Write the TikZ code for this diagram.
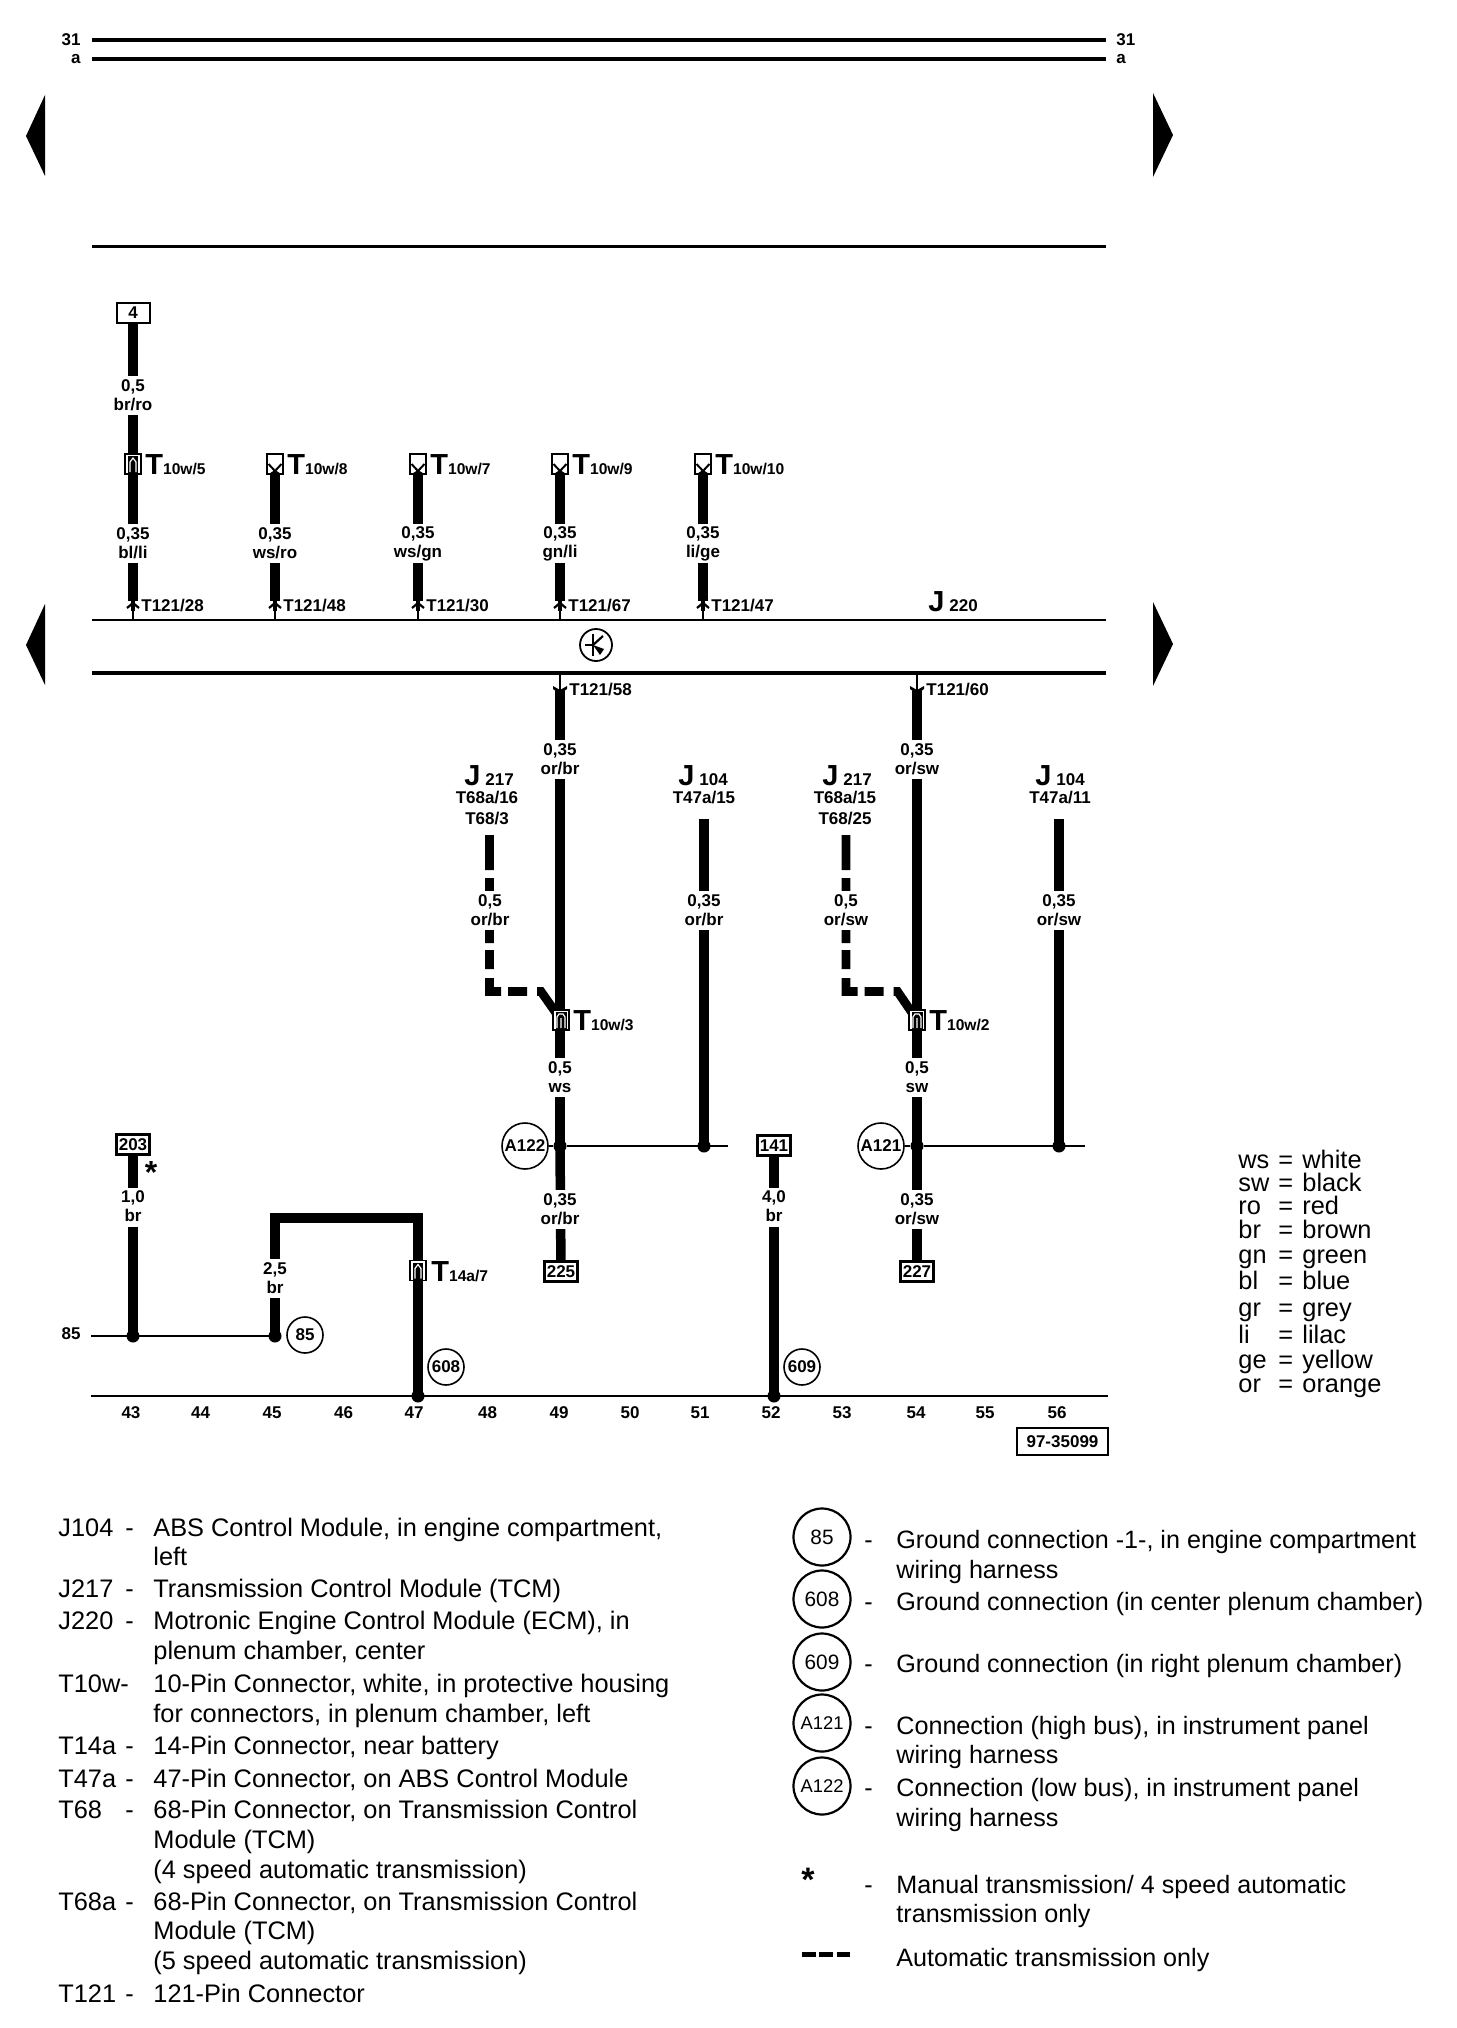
\documentclass[tikz,border=0pt]{standalone}
\usepackage{fontspec}
\setmainfont{Liberation Sans}
\usetikzlibrary{calc}
\pgfdeclarelayer{wires}
\pgfsetlayers{wires,main}
\newcommand\bsm{\fontsize{8.5}{9.5}\selectfont\bfseries}
\newcommand\bsn{\fontsize{7.8}{9.5}\selectfont\bfseries}
\newcommand\bbig{\fontsize{14.5}{14.5}\selectfont\bfseries}
\newcommand\txtf{\fontsize{12.68}{14}\selectfont}
\newcommand\txtr{\fontsize{12.57}{14}\selectfont}
\newcommand\LL[2]{\rule[-1.5pt]{0pt}{8pt}#1\\\rule[-1.5pt]{0pt}{8pt}#2}
\tikzset{
  wire/.style={line width=4.75pt,line cap=butt},
  thin wire/.style={line width=1pt},
  flatbar/.style={line cap=butt},
  wl/.style={fill=white,inner sep=0pt,minimum height=19.5pt,minimum width=6pt,align=center,font=\bsm},
  bt/.style={inner sep=0pt,font=\bsm},
  bigtx/.style={inner sep=0pt,anchor=base west},
  tx/.style={inner sep=0pt,anchor=base west,font=\txtf},
  txr/.style={inner sep=0pt,anchor=base west,font=\txtr},
  term/.style={draw,fill=white,inner sep=0pt,minimum width=16.5pt,minimum height=10pt,line width=1.2pt,font=\bsm},
  conn/.style={draw,fill=white,inner sep=0pt,minimum width=8pt,minimum height=10pt,line width=.9pt},
  ring/.style={draw,fill=white,circle,inner sep=0pt,minimum size=18pt,line width=.8pt,font=\bsm},
  bigring/.style={draw,fill=white,circle,inner sep=0pt,minimum size=28.5pt,line width=1.1pt,font=\fontsize{10.4}{11}\selectfont},
  blob/.style={fill=black,circle,inner sep=0pt,minimum size=6.5pt},
  dashwire/.style={line width=4.4pt,line cap=butt,line join=miter,
    dash pattern=on 17.5pt off 4pt on 6.5pt off 19.5pt on 6.5pt off 3.5pt on 9.5pt off 4.5pt on 12.5pt off 3.5pt on 9.5pt off 5pt on 100pt},
}
% connector glyphs
\newcommand\ConnUp[3]{%
  \node[conn] (#1) at (#2,#3) {};
  \begin{scope}[shift={(#1.center)}]
    \fill (-4.75,-8) rectangle (4.75,9);
    \draw[white,line width=.6pt] (-3,8)--(-3,-2)--(0,-6)--(3,-2)--(3,8);
  \end{scope}}
\newcommand\ConnDouble[3]{%
  \node[conn] (#1) at (#2,#3) {};
  \begin{scope}[shift={(#1.center)}]
    \fill (-5.5,-8) rectangle (5.5,9);
    \draw[white,line width=.6pt] (-4,8)--(-4,-3)--(-2,-6)--(2,-6)--(4,-3)--(4,8) (0,8)--(0,-2);
  \end{scope}}
\newcommand\ConnDown[3]{%
  \node[conn] (#1) at (#2,#3) {};
  \begin{scope}[shift={(#1.center)}]
    \draw[line width=1pt] (-6.5,0)--(0,7)--(6.5,0);
    \fill (-4.75,9) -- (0,6) -- (4.75,9) -- cycle;
  \end{scope}}
% connector name, wire label etc. for the top row
\newcommand\TopCol[6]{%
  \coordinate (ar#1) at (#2,601);
  \coordinate (st#1) at (#2,620);
  \node[wl] (lb#1) at (#2,543.5) {\LL{0,35}{#4}};
  \node[bt,anchor=base west] (pn#1) at ({#2+8},611) {#5};
  \node[bigtx] (tn#1) at ({#2+12},474) {\bbig T\bsn #3};
  \begin{pgfonlayer}{wires}
    \draw[wire] (c#1.center) -- (ar#1);
    \draw[line width=1pt] (ar#1) -- (st#1);
    \draw[line width=1.6pt] (ar#1) -- ($(ar#1)+(0,10)$);
  \end{pgfonlayer}
  \draw[line width=1.1pt] ($(ar#1)+(-6,7)$) -- ($(ar#1)+(0,2)$) -- ($(ar#1)+(6,7)$);
}
\newcommand\Hl[5]{%
  \coordinate (#1w) at (#2,#4); \coordinate (#1e) at (#3,#4);
  \draw[flatbar,line width=#5] (#1w) -- (#1e);}
\newcommand\Tx[4]{\node[tx] (#1) at (#2,#3) {#4};}
\newcommand\Tr[4]{\node[txr] (#1) at (#2,#3) {#4};}
\newcommand\Bn[4]{\node[bt] (#1) at (#2,#3) {#4};}
\newcommand\JLab[5]{\node[bigtx] (#1) at (#2,#3) {\bbig #4\,\bsm #5};}
\begin{document}
\begin{tikzpicture}[x=.5pt,y=-.5pt]
\useasboundingbox (0,0) rectangle (1456,2028);
\begin{pgfonlayer}{wires}
\fill[white] (0,0) rectangle (1456,2028);
\end{pgfonlayer}
% header lines
\Hl{ha}{92}{1106}{40}{1.6pt}
\Hl{hb}{92}{1106}{59}{1.8pt}
\Hl{hc}{92}{1106}{247}{1.5pt}
\Hl{bus1}{92}{1106}{620}{1pt}
\Hl{bus2}{92}{1106}{673}{1.8pt}
\Hl{gnd}{91}{1108}{1396}{1pt}
\Hl{rail}{91}{275}{1336}{1pt}
\node[bt,anchor=east] (n31a) at (81,40) {31};
\node[bt,anchor=east] (na) at (81,59) {a};
\node[bt,anchor=west] (n31b) at (1116,40) {31};
\node[bt,anchor=west] (nb) at (1116,59) {a};
% page arrows
\fill (45,95)--(26,136)--(45,176)--cycle;
\fill (1153,93)--(1173,135)--(1153,177)--cycle;
\fill (45,604)--(26,645)--(45,685)--cycle;
\fill (1153,602)--(1173,644)--(1153,686)--cycle;
% top row
\node[term,line width=1pt] (b4) at (133,313) {4};
\node[wl] (l4) at (133,395.5) {\LL{0,5}{br/ro}};
\ConnUp{ca}{133}{464}
\ConnDown{cb}{275}{464}
\ConnDown{cc}{418}{464}
\ConnDown{cd}{560}{464}
\ConnDown{ce}{703}{464}
\begin{pgfonlayer}{wires}
\draw[wire] (b4.center) -- (ca.center);
\end{pgfonlayer}
\TopCol{a}{133}{10w/5}{bl/li}{T121/28}{}
\TopCol{b}{275}{10w/8}{ws/ro}{T121/48}{}
\TopCol{c}{418}{10w/7}{ws/gn}{T121/30}{}
\TopCol{d}{560}{10w/9}{gn/li}{T121/67}{}
\TopCol{e}{703}{10w/10}{li/ge}{T121/47}{}
\JLab{j220}{928}{611}{J}{220}
% control unit symbol
\node[draw,circle,inner sep=0pt,minimum size=16pt,line width=.9pt] (ku) at (596,645) {};
\draw[line width=.9pt] ($(ku.center)+(-11,0)$) -- ($(ku.center)+(-3,0)$);
\draw[line width=1.1pt] ($(ku.center)+(-3,-11)$) -- ($(ku.center)+(-3,11)$);
\draw[line width=1.1pt] ($(ku.center)+(-3,0)$) -- ($(ku.center)+(7,-9)$);
\fill ($(ku.center)+(-3,0)$) -- ($(ku.center)+(8,4)$) -- ($(ku.center)+(4,10)$) -- cycle;
% lower bus tips
\coordinate (p58) at (560,673);
\coordinate (p60) at (917,673);
\coordinate (h58) at (560,691);
\coordinate (h60) at (917,691);
\node[bt,anchor=base west] (t58) at (569,695) {T121/58};
\node[bt,anchor=base west] (t60) at (926,695) {T121/60};
% column 49
\node[wl] (l49a) at (560,759.5) {\LL{0,35}{or/br}};
\ConnDouble{c103}{561}{1020}
\node[bigtx] (tc103) at (573,1030) {\bbig T\bsn 10w/3};
\node[wl] (l49b) at (560,1077.5) {\LL{0,5}{ws}};
\node[blob] (d49) at (560,1146) {};
\node[ring,minimum size=23pt] (a122) at (525,1146) {A122};
\node[wl] (l49c) at (560,1209.5) {\LL{0,35}{or/br}};
\node[term] (b225) at (561,1271.5) {225};
% column 54
\node[wl] (l54a) at (917,759.5) {\LL{0,35}{or/sw}};
\ConnDouble{c102}{917}{1020}
\node[bigtx] (tc102) at (929,1030) {\bbig T\bsn 10w/2};
\node[wl] (l54b) at (917,1077.5) {\LL{0,5}{sw}};
\node[blob] (d54) at (917,1146) {};
\node[ring,minimum size=23pt] (a121) at (881,1146) {A121};
\node[wl] (l54c) at (917,1209.5) {\LL{0,35}{or/sw}};
\node[term] (b227) at (917,1271.5) {227};
% column 51, 56
\JLab{j104a}{678}{785}{J}{104}
\Bn{p104a}{704}{798}{T47a/15}
\coordinate (t51) at (704,819);
\node[wl] (l51) at (704,910.5) {\LL{0,35}{or/br}};
\node[blob] (d51) at (704,1146) {};
\JLab{j104b}{1035}{785}{J}{104}
\Bn{p104b}{1060}{798}{T47a/11}
\coordinate (t56) at (1059,819);
\node[wl] (l56) at (1059,910.5) {\LL{0,35}{or/sw}};
\node[blob] (d56) at (1059,1146) {};
% J217 dashed
\JLab{j217a}{464}{785}{J}{217}
\Bn{p217a}{487}{798}{T68a/16}
\Bn{q217a}{487}{819}{T68/3}
\coordinate (t48) at (489.5,835);
\coordinate (k48) at (489.5,991.5);
\coordinate (m48) at (541,991.5);
\node[wl] (l48) at (490,910.5) {\LL{0,5}{or/br}};
\JLab{j217b}{822}{785}{J}{217}
\Bn{p217b}{845}{798}{T68a/15}
\Bn{q217b}{845}{819}{T68/25}
\coordinate (t53) at (846,835);
\coordinate (k53) at (846,991.5);
\coordinate (m53) at (897.5,991.5);
\node[wl] (l53) at (846,910.5) {\LL{0,5}{or/sw}};
\coordinate (e51) at (728,1146);
\coordinate (e56) at (1085,1146);
% column 43, 45, 47, 52
\node[term] (b203) at (133,1144.5) {203};
\node[inner sep=0pt,font=\fontsize{16}{16}\selectfont\bfseries] (star) at (151,1172) {*};
\node[wl] (l43) at (133,1207) {\LL{1,0}{br}};
\node[blob] (d43) at (133,1336) {};
\node[blob] (d45) at (275,1336) {};
\node[wl] (l45) at (275,1278.5) {\LL{2,5}{br}};
\node[ring] (g85) at (305,1335) {85};
\coordinate (q45) at (275,1218);
\coordinate (q47) at (418,1218);
\ConnUp{c14}{418}{1270.5}
\node[bigtx] (tc14) at (431,1281) {\bbig T\bsn 14a/7};
\node[blob] (d47) at (418,1396) {};
\node[ring] (g608) at (446,1367) {608};
\node[term] (b141) at (774,1145.5) {141};
\node[wl] (l52) at (774,1207) {\LL{4,0}{br}};
\node[blob] (d52) at (774,1396) {};
\node[ring] (g609) at (802,1367) {609};
\begin{pgfonlayer}{wires}
\draw[wire] (h58) -- (d49.center);
\draw[wire] (d49.center) -- (b225.center);
\draw[wire] (h60) -- (d54.center);
\draw[wire] (d54.center) -- (b227.center);
\draw[line width=1.2pt] (p58) -- (h58);
\draw[line width=1.2pt] (p60) -- (h60);
\draw[thin wire] (a122) -- (d49) -- (e51);
\draw[thin wire] (a121) -- (d54) -- (e56);
\draw[wire] (t51) -- (d51.center);
\draw[wire] (t56) -- (d56.center);
\draw[dashwire] (t48) -- (k48) -- (m48) -- (c103.center);
\draw[dashwire] (t53) -- (k53) -- (m53) -- (c102.center);
\draw[wire] (b203.center) -- (d43.center);
\draw[wire,line join=miter] (d45.center) -- (q45) -- (q47) -- (d47.center);
\draw[wire] (b141.center) -- (d52.center);
\end{pgfonlayer}
\fill ($(h58)+(-7,-5)$) -- ($(h58)+(0,-1)$) -- ($(h58)+(7,-5)$) -- ($(h58)+(7,-2)$) -- ($(h58)+(0,3)$) -- ($(h58)+(-7,-2)$) -- cycle;
\fill ($(h60)+(-7,-5)$) -- ($(h60)+(0,-1)$) -- ($(h60)+(7,-5)$) -- ($(h60)+(7,-2)$) -- ($(h60)+(0,3)$) -- ($(h60)+(-7,-2)$) -- cycle;
\node[bt,anchor=east] (n85) at (81,1334) {85};
% column numbers
\Bn{s43}{131}{1413}{43}\Bn{s44}{200.5}{1413}{44}\Bn{s45}{272}{1413}{45}\Bn{s46}{343.5}{1413}{46}
\Bn{s47}{414}{1413}{47}\Bn{s48}{487.5}{1413}{48}\Bn{s49}{559}{1413}{49}\Bn{s50}{630}{1413}{50}
\Bn{s51}{700}{1413}{51}\Bn{s52}{771}{1413}{52}\Bn{s53}{842}{1413}{53}\Bn{s54}{916}{1413}{54}
\Bn{s55}{985}{1413}{55}\Bn{s56}{1057}{1413}{56}
\node[draw,line width=1pt,inner sep=0pt,minimum width=45.5pt,minimum height=13.5pt,font=\bsm] (code) at (1062.5,1441.5) {97-35099};
% colour legend
\Tx{k1}{1238}{1168}{ws}\Tx{e1}{1278}{1168}{=}\Tx{v1}{1302}{1168}{white}
\Tx{k2}{1238}{1191}{sw}\Tx{e2}{1278}{1191}{=}\Tx{v2}{1302}{1191}{black}
\Tx{k3}{1238}{1214}{ro}\Tx{e3}{1278}{1214}{=}\Tx{v3}{1302}{1214}{red}
\Tx{k4}{1238}{1238}{br}\Tx{e4}{1278}{1238}{=}\Tx{v4}{1302}{1238}{brown}
\Tx{k5}{1238}{1263}{gn}\Tx{e5}{1278}{1263}{=}\Tx{v5}{1302}{1263}{green}
\Tx{k6}{1238}{1289}{bl}\Tx{e6}{1278}{1289}{=}\Tx{v6}{1302}{1289}{blue}
\Tx{k7}{1238}{1316}{gr}\Tx{e7}{1278}{1316}{=}\Tx{v7}{1302}{1316}{grey}
\Tx{k8}{1238}{1343}{li}\Tx{e8}{1278}{1343}{=}\Tx{v8}{1302}{1343}{lilac}
\Tx{k9}{1238}{1368}{ge}\Tx{e9}{1278}{1368}{=}\Tx{v9}{1302}{1368}{yellow}
\Tx{k0}{1238}{1392}{or}\Tx{e0}{1278}{1392}{=}\Tx{v0}{1302}{1392}{orange}
% parts list, left
\Tx{a1}{58}{1536}{J104}\Tx{a1d}{125}{1536}{-}\Tx{a1t}{153}{1536}{ABS Control Module, in engine compartment,}
\Tx{a2t}{153}{1565}{left}
\Tx{a3}{58}{1597}{J217}\Tx{a3d}{125}{1597}{-}\Tx{a3t}{153}{1597}{Transmission Control Module (TCM)}
\Tx{a4}{58}{1629}{J220}\Tx{a4d}{125}{1629}{-}\Tx{a4t}{153}{1629}{Motronic Engine Control Module (ECM), in}
\Tx{a5t}{153}{1659}{plenum chamber, center}
\Tx{a6}{58}{1692}{T10w-}\Tx{a6t}{153}{1692}{10-Pin Connector, white, in protective housing}
\Tx{a7t}{153}{1722}{for connectors, in plenum chamber, left}
\Tx{a8}{58}{1754}{T14a}\Tx{a8d}{125}{1754}{-}\Tx{a8t}{153}{1754}{14-Pin Connector, near battery}
\Tx{a9}{58}{1787}{T47a}\Tx{a9d}{125}{1787}{-}\Tx{a9t}{153}{1787}{47-Pin Connector, on ABS Control Module}
\Tx{b1}{58}{1818}{T68}\Tx{b1d}{125}{1818}{-}\Tx{b1t}{153}{1818}{68-Pin Connector, on Transmission Control}
\Tx{b2t}{153}{1848}{Module (TCM)}
\Tx{b3t}{153}{1878}{(4 speed automatic transmission)}
\Tx{b4x}{58}{1910}{T68a}\Tx{b4d}{125}{1910}{-}\Tx{b4t}{153}{1910}{68-Pin Connector, on Transmission Control}
\Tx{b5t}{153}{1939}{Module (TCM)}
\Tx{b6t}{153}{1969}{(5 speed automatic transmission)}
\Tx{b7}{58}{2002}{T121}\Tx{b7d}{125}{2002}{-}\Tx{b7t}{153}{2002}{121-Pin Connector}
% parts list, right
\node[bigring] (r85) at (822,1537) {85};
\node[bigring] (r608) at (822,1599) {608};
\node[bigring] (r609) at (822,1662) {609};
\node[bigring,font=\fontsize{9.2}{10}\selectfont] (r121) at (822,1723) {A121};
\node[bigring,font=\fontsize{9.2}{10}\selectfont] (r122) at (822,1786) {A122};
\Tr{c1d}{864}{1548}{-}\Tr{c1t}{896}{1548}{Ground connection -1-, in engine compartment}
\Tr{c2t}{896}{1578}{wiring harness}
\Tr{c3d}{864}{1610}{-}\Tr{c3t}{896}{1610}{Ground connection (in center plenum chamber)}
\Tr{c4d}{864}{1672}{-}\Tr{c4t}{896}{1672}{Ground connection (in right plenum chamber)}
\Tr{c5d}{864}{1734}{-}\Tr{c5t}{896}{1734}{Connection (high bus), in instrument panel}
\Tr{c6t}{896}{1763}{wiring harness}
\Tr{c7d}{864}{1796}{-}\Tr{c7t}{896}{1796}{Connection (low bus), in instrument panel}
\Tr{c8t}{896}{1826}{wiring harness}
\node[inner sep=0pt,font=\fontsize{17}{17}\selectfont\bfseries] (s2) at (808,1880) {*};
\Tr{c9d}{864}{1893}{-}\Tr{c9t}{896}{1893}{Manual transmission/ 4 speed automatic}
\Tr{d1t}{896}{1922}{transmission only}
\coordinate (dd1) at (801.5,1954.5);
\coordinate (dd2) at (850,1954.5);
\draw[line width=2.5pt,dash pattern=on 7pt off 1.75pt] (dd1) -- (dd2);
\Tr{d2t}{896}{1966}{Automatic transmission only}
\end{tikzpicture}
\end{document}
